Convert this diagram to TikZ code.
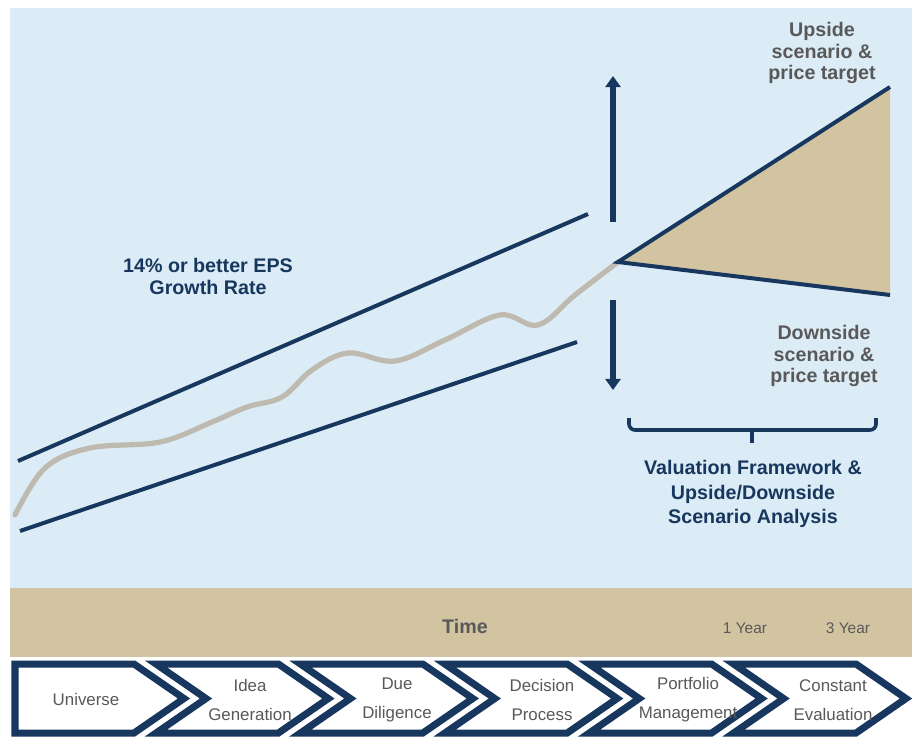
\documentclass[tikz,border=0pt]{standalone}
\usepackage{fontspec}
\setsansfont{Liberation Sans}
\usetikzlibrary{arrows.meta}

\definecolor{skyback}{HTML}{DCECF6}
\definecolor{sand}{HTML}{D3C4A1}
\definecolor{navy}{HTML}{17375E}
\definecolor{pebble}{HTML}{BEBAB0}
\definecolor{slate}{HTML}{595959}

\begin{document}
\begin{tikzpicture}[x=0.025cm, y=-0.025cm, font=\sffamily,
  navyline/.style={draw=navy, line width=0.1cm},
  chev/.style={draw=navy, fill=white, line width=0.175cm},
  chevtext/.style={text=slate, align=center, font=\sffamily\fontsize{12}{20.5}\selectfont},
  bigbold/.style={align=center, font=\sffamily\bfseries\fontsize{14}{15.6}\selectfont},
  valtext/.style={align=center, text=navy, font=\sffamily\bfseries\fontsize{14}{17.7}\selectfont},
  yeartext/.style={text=slate, font=\sffamily\fontsize{11}{13}\selectfont},
  vert/.style={draw=navy, line width=0.16cm, -{Triangle[width=0.38cm, length=0.28cm]}}]
\useasboundingbox (0,0) rectangle (912,738);
\fill[white] (0,0) rectangle (912,738);

% panels
\fill[skyback] (10,8) rectangle (912,588);
\fill[sand] (10,588) rectangle (912,657);

% growth channel
\coordinate (topstart) at (18,461);
\coordinate (topend) at (588,214);
\coordinate (lowstart) at (20,531);
\coordinate (lowend) at (577,342);
\coordinate (apex) at (618,262);
\coordinate (hiend) at (890,87);
\coordinate (loend) at (890,295);

\fill[sand] (apex) -- (hiend) -- (loend) -- cycle;
\draw[navyline] (topstart) -- (topend);
\draw[navyline] (lowstart) -- (lowend);
\draw[pebble, line width=0.13cm, line cap=round] plot[smooth, tension=0.6] coordinates {(15,515) (45,468) (90,448) (160,442) (212,422) (247,407) (282,397) (312,370) (348,353) (395,361) (445,340) (500,315) (538,325) (575,295) (apex)};
\draw[navyline] (hiend) -- (apex) -- (loend);

% up / down arrows
\coordinate (upfoot) at (613,222);
\coordinate (uptip) at (613,76);
\coordinate (downfoot) at (613,300);
\coordinate (downtip) at (613,390);
\draw[vert] (upfoot) -- (uptip);
\draw[vert] (downfoot) -- (downtip);

% bracket under the scenarios
\coordinate (braceL) at (629,418);
\coordinate (braceR) at (876,418);
\coordinate (braceC) at (752,430);
\coordinate (braceM) at (752,443);
\draw[navy, line width=0.09cm, rounded corners=0.15cm] (braceL) -- (braceL |- braceC) -- (braceR |- braceC) -- (braceR);
\draw[navy, line width=0.09cm] (braceC) -- (braceM);

\node[bigbold, text=navy] (growth) at (208,276) {14\% or better EPS\\Growth Rate};
\node[bigbold, text=slate] (upside) at (822,53) {Upside\\scenario \&\\price target};
\node[bigbold, text=slate] (downside) at (824,356) {Downside\\scenario \&\\price target};
\node[valtext] (valuation) at (753,494) {Valuation Framework \&\\Upside/Downside\\Scenario Analysis};

% time axis
\node[text=slate, font=\sffamily\bfseries\fontsize{14}{16}\selectfont] (time) at (465,626) {Time};
\node[yeartext] (oneyear) at (745,628) {1 Year};
\node[yeartext] (threeyear) at (848,628) {3 Year};

% process chevrons
\draw[chev] (15,664) -- (134,664) -- (184,698.5) -- (134,733) -- (15,733) -- cycle;
\draw[chev] (156,664) -- (278.4,664) -- (328.4,698.5) -- (278.4,733) -- (156,733) -- (206,698.5) -- cycle;
\draw[chev] (300.4,664) -- (422.8,664) -- (472.8,698.5) -- (422.8,733) -- (300.4,733) -- (350.4,698.5) -- cycle;
\draw[chev] (444.8,664) -- (567.2,664) -- (617.2,698.5) -- (567.2,733) -- (444.8,733) -- (494.8,698.5) -- cycle;
\draw[chev] (589.2,664) -- (711.6,664) -- (761.6,698.5) -- (711.6,733) -- (589.2,733) -- (639.2,698.5) -- cycle;
\draw[chev] (733.6,664) -- (856,664) -- (906,698.5) -- (856,733) -- (733.6,733) -- (783.6,698.5) -- cycle;

\node[chevtext] (universe) at (86,699) {Universe};
\node[chevtext] (idea) at (250,700) {Idea\\Generation};
\node[chevtext] (due) at (397,700) {Due\\Diligence};
\node[chevtext] (decision) at (542,700) {Decision\\Process};
\node[chevtext] (portfolio) at (688,700) {Portfolio\\Management};
\node[chevtext] (constant) at (833,700) {Constant\\Evaluation};

\end{tikzpicture}
\end{document}
